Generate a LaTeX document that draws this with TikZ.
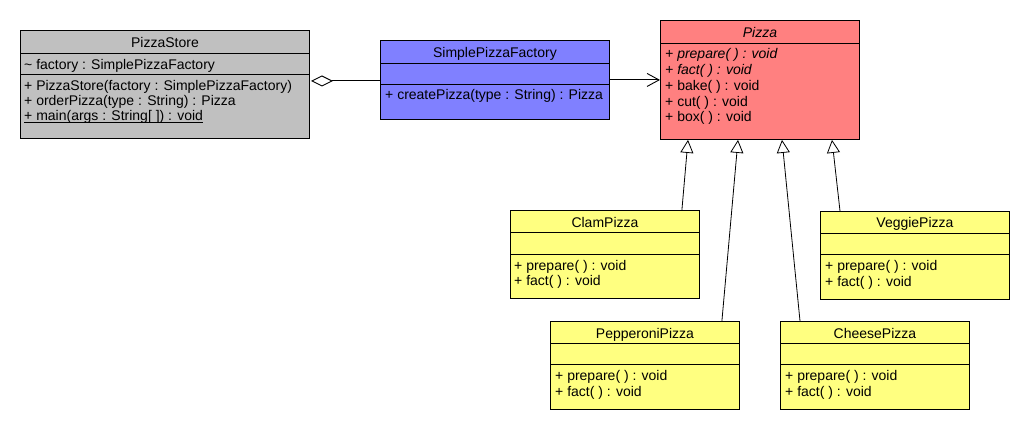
\documentclass[tikz,border=0pt]{standalone}
\usepackage{fontspec}
\setmainfont{Liberation Sans}
\usetikzlibrary{arrows.meta}
\definecolor{storegray}{RGB}{192,192,192}
\definecolor{factoryblue}{RGB}{128,128,255}
\definecolor{pizzared}{RGB}{255,128,128}
\definecolor{kindyellow}{RGB}{255,255,128}
\tikzset{
	classbox/.style  = {draw, line width=0.9pt, rectangle, anchor=north west, inner sep=0pt},
	kindbox/.style   = {classbox, fill=kindyellow, minimum width=189pt, minimum height=88pt},
	title/.style     = {anchor=base, inner sep=0pt, font=\fontsize{14}{16}\selectfont},
	member/.style    = {anchor=base west, inner sep=0pt, font=\fontsize{14}{16}\selectfont},
	divider/.style   = {line width=0.9pt},
	aggr/.style      = {line width=0.9pt, {Diamond[open,fill=white,length=22pt,width=11pt]}-},
	assoc/.style     = {line width=0.9pt, -{Straight Barb[length=12pt,width=13pt]}},
	inherit/.style   = {line width=0.8pt, -{Triangle[open,fill=white,length=13pt,width=13pt]}}
}
\begin{document}
\begin{tikzpicture}[x=1pt, y=-1pt]
	\useasboundingbox (0,0) rectangle (1030,430);

	% PizzaStore
	\node[classbox, fill=storegray, minimum width=289pt, minimum height=108pt] (store) at (20,30) {};
	\draw[divider] ([yshift=-23pt]store.north west) -- ([yshift=-23pt]store.north east);
	\draw[divider] ([yshift=-44pt]store.north west) -- ([yshift=-44pt]store.north east);
	\node[title] (store-t) at ([yshift=-18pt]store.north) {PizzaStore};
	\node[member] (store-a1) at ([xshift=4pt,yshift=-39.5pt]store.north west) {\textasciitilde\ factory : SimplePizzaFactory};
	\node[member] (store-m1) at ([xshift=4pt,yshift=-61pt]store.north west) {+ PizzaStore(factory : SimplePizzaFactory)};
	\node[member] (store-m2) at ([xshift=4pt,yshift=-76pt]store.north west) {+ orderPizza(type : String) : Pizza};
	\node[member] (store-m3) at ([xshift=4pt,yshift=-91pt]store.north west) {\underline{\smash{+ main(args : String[ ]) : void}}};

	% SimplePizzaFactory
	\node[classbox, fill=factoryblue, minimum width=229pt, minimum height=79pt] (factory) at (380,40) {};
	\draw[divider] ([yshift=-23pt]factory.north west) -- ([yshift=-23pt]factory.north east);
	\draw[divider] ([yshift=-44pt]factory.north west) -- ([yshift=-44pt]factory.north east);
	\node[title] (factory-t) at ([yshift=-18pt]factory.north) {SimplePizzaFactory};
	\node[member] (factory-m1) at ([xshift=5pt,yshift=-60pt]factory.north west) {+ createPizza(type : String) : Pizza};

	% Pizza
	\node[classbox, fill=pizzared, minimum width=199pt, minimum height=119pt] (pizza) at (660,20) {};
	\draw[divider] ([yshift=-23pt]pizza.north west) -- ([yshift=-23pt]pizza.north east);
	\node[title] (pizza-t) at ([yshift=-18pt]pizza.north) {\itshape Pizza};
	\node[member] (pizza-m1) at ([xshift=5pt,yshift=-38.5pt]pizza.north west) {\itshape + prepare( ) : void};
	\node[member] (pizza-m2) at ([xshift=5pt,yshift=-54.5pt]pizza.north west) {\itshape + fact( ) : void};
	\node[member] (pizza-m3) at ([xshift=5pt,yshift=-70.5pt]pizza.north west) {+ bake( ) : void};
	\node[member] (pizza-m4) at ([xshift=5pt,yshift=-86.5pt]pizza.north west) {+ cut( ) : void};
	\node[member] (pizza-m5) at ([xshift=5pt,yshift=-102pt]pizza.north west) {+ box( ) : void};

	% ClamPizza
	\node[kindbox] (clam) at (510,210) {};
	\draw[divider] ([yshift=-22pt]clam.north west) -- ([yshift=-22pt]clam.north east);
	\draw[divider] ([yshift=-44pt]clam.north west) -- ([yshift=-44pt]clam.north east);
	\node[title] (clam-t) at ([yshift=-18pt]clam.north) {ClamPizza};
	\node[member] (clam-m1) at ([xshift=4pt,yshift=-60pt]clam.north west) {+ prepare( ) : void};
	\node[member] (clam-m2) at ([xshift=4pt,yshift=-75pt]clam.north west) {+ fact( ) : void};

	% PepperoniPizza
	\node[kindbox] (pep) at (550,321) {};
	\draw[divider] ([yshift=-22pt]pep.north west) -- ([yshift=-22pt]pep.north east);
	\draw[divider] ([yshift=-43pt]pep.north west) -- ([yshift=-43pt]pep.north east);
	\node[title] (pep-t) at ([yshift=-17pt]pep.north) {PepperoniPizza};
	\node[member] (pep-m1) at ([xshift=5pt,yshift=-59pt]pep.north west) {+ prepare( ) : void};
	\node[member] (pep-m2) at ([xshift=5pt,yshift=-75pt]pep.north west) {+ fact( ) : void};

	% VeggiePizza
	\node[kindbox] (veg) at (820,211) {};
	\draw[divider] ([yshift=-22pt]veg.north west) -- ([yshift=-22pt]veg.north east);
	\draw[divider] ([yshift=-43pt]veg.north west) -- ([yshift=-43pt]veg.north east);
	\node[title] (veg-t) at ([yshift=-17pt]veg.north) {VeggiePizza};
	\node[member] (veg-m1) at ([xshift=5pt,yshift=-59pt]veg.north west) {+ prepare( ) : void};
	\node[member] (veg-m2) at ([xshift=5pt,yshift=-75pt]veg.north west) {+ fact( ) : void};

	% CheesePizza
	\node[kindbox] (chz) at (780,321) {};
	\draw[divider] ([yshift=-22pt]chz.north west) -- ([yshift=-22pt]chz.north east);
	\draw[divider] ([yshift=-43pt]chz.north west) -- ([yshift=-43pt]chz.north east);
	\node[title] (chz-t) at ([yshift=-17pt]chz.north) {CheesePizza};
	\node[member] (chz-m1) at ([xshift=5pt,yshift=-59pt]chz.north west) {+ prepare( ) : void};
	\node[member] (chz-m2) at ([xshift=5pt,yshift=-75pt]chz.north west) {+ fact( ) : void};

	% connectors
	\draw[aggr] ([xshift=1pt,yshift=-1pt]store.east |- factory.west) -- ([yshift=-1pt]factory.west);
	\draw[assoc] (factory.east) -- (factory.east -| pizza.west);
	\draw[inherit] ([xshift=-18pt]clam.north east) -- ([xshift=28pt]pizza.south west);
	\draw[inherit] ([xshift=-18pt]pep.north east) -- ([xshift=78pt]pizza.south west);
	\draw[inherit] ([xshift=20pt]chz.north west) -- ([xshift=122pt]pizza.south west);
	\draw[inherit] ([xshift=20pt]veg.north west) -- ([xshift=172pt]pizza.south west);
\end{tikzpicture}
\end{document}
